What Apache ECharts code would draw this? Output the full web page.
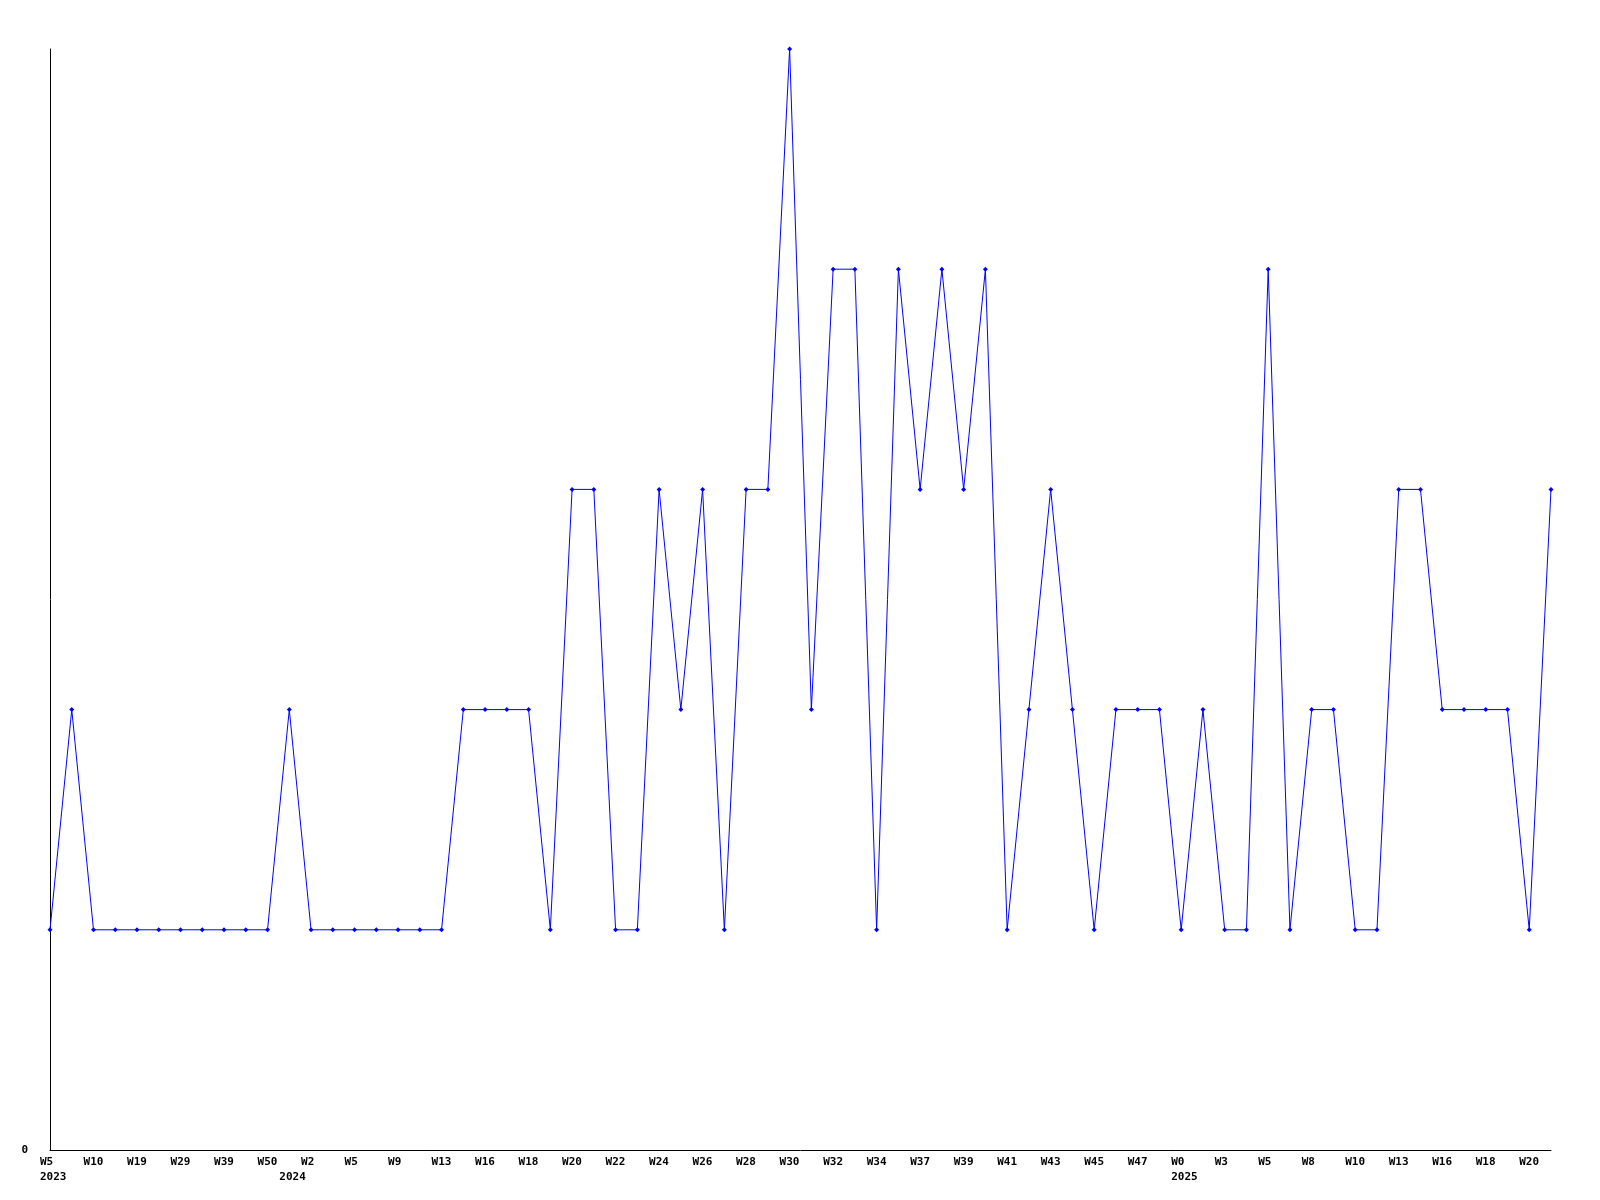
<!DOCTYPE html>
<html>
<head>
<meta charset="utf-8">
<script src="https://cdn.jsdelivr.net/npm/echarts@6/dist/echarts.min.js"></script>
<style>html,body{margin:0;padding:0;background:#fff}#c{width:1600px;height:1200px}</style>
</head>
<body>
<div id="c"></div>
<script>
var weekLabels = ['W5','W7','W10','W14','W19','W24','W29','W34','W39','W45',
  'W50','W1','W2','W3','W5','W7','W9','W11','W13','W15',
  'W16','W17','W18','W19','W20','W21','W22','W23','W24','W25',
  'W26','W27','W28','W29','W30','W31','W32','W33','W34','W35',
  'W37','W38','W39','W40','W41','W42','W43','W44','W45','W46',
  'W47','W48','W0','W2','W3','W4','W5','W7','W8','W9',
  'W10','W12','W13','W15','W16','W17','W18','W19','W20','W21'];
var yearLabels = {0:'2023', 11:'2024', 52:'2025'};
var counts = [1,2,1,1,1,1,1,1,1,1,
  1,2,1,1,1,1,1,1,1,2,
  2,2,2,1,3,3,1,1,3,2,
  3,1,3,3,5,2,4,4,1,4,
  3,4,3,4,1,2,3,2,1,2,
  2,2,1,2,1,1,4,1,2,2,
  1,1,3,3,2,2,2,2,1,3];

var chart = echarts.init(document.getElementById('c'));
var fontBase = {fontFamily:'DejaVu Sans Mono', fontWeight:'bold', fontSize:11, color:'#000'};
chart.setOption({
  animation:false,
  grid:{left:50, right:49, top:49, bottom:50, containLabel:false},
  xAxis:[{
    type:'category', data:weekLabels, boundaryGap:false,
    axisLine:{lineStyle:{color:'#000', width:1}},
    axisTick:{show:false},
    splitLine:{show:false},
    axisLabel:Object.assign({interval:1, margin:7, align:'left', padding:[0,0,0,-10]}, fontBase)
  },{
    type:'category', data:weekLabels, boundaryGap:false, position:'bottom', offset:15,
    axisLine:{show:false}, axisTick:{show:false}, splitLine:{show:false},
    axisLabel:Object.assign({interval:0, margin:7, align:'left', padding:[0,0,0,-10],
      formatter:function(v,i){return yearLabels[i]||'';}}, fontBase)
  }],
  yAxis:{
    type:'value', min:0, max:5, interval:1,
    axisLine:{show:true, lineStyle:{color:'#000', width:1}},
    axisTick:{show:false},
    splitLine:{show:false},
    axisLabel:Object.assign({margin:22, formatter:function(v){return v===0?'0':'';}}, fontBase)
  },
  series:[{
    type:'line', data:counts, xAxisIndex:0,
    lineStyle:{color:'#0000ff', width:1},
    itemStyle:{color:'#0000ff'},
    symbol:'diamond', symbolSize:5, showAllSymbol:true
  }]
});
</script>
</body>
</html>
